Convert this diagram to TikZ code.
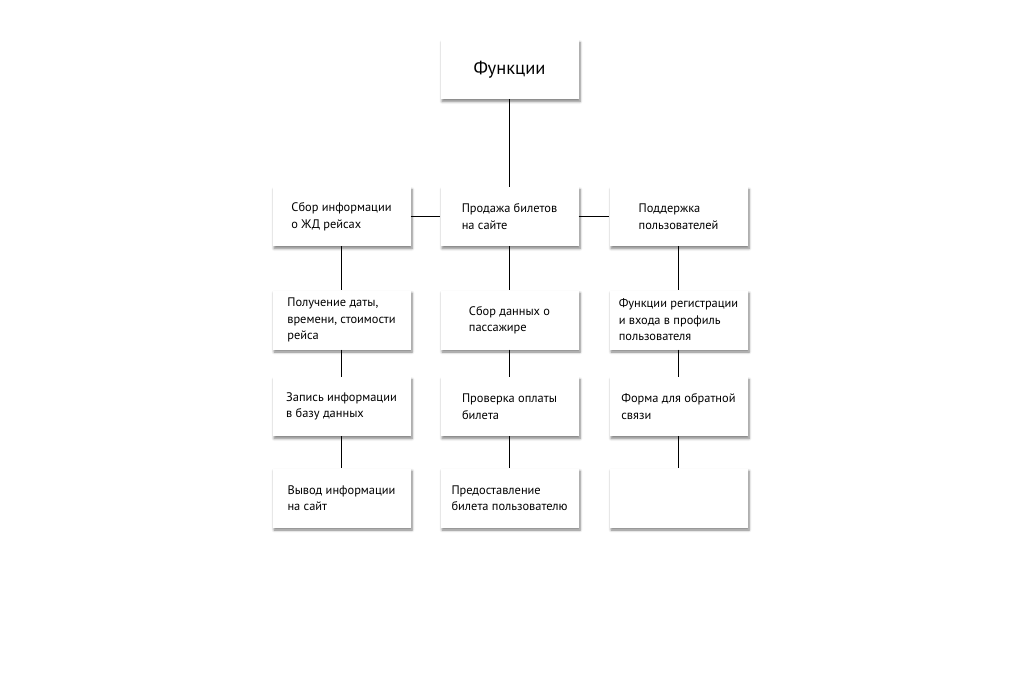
\documentclass[tikz,border=0pt]{standalone}
\usepackage{fontspec}
\setmainfont{PT Sans}
\usetikzlibrary{shadows.blur}
\begin{document}
\begin{tikzpicture}[x=1pt,y=1pt,
  box/.style={fill=white, minimum width=138pt, minimum height=59pt, inner sep=0pt,
    align=left, font=\fontsize{12.4}{16.5}\selectfont,
    blur shadow={shadow xshift=1.5pt, shadow yshift=-2.5pt, shadow blur steps=6, shadow opacity=50, shadow blur radius=2.5pt}},
  link/.style={draw=black, line width=1pt}]
\useasboundingbox (0,0) rectangle (1030,-678);
\node[box, font=\fontsize{18.5}{22}\selectfont] (top) at (509.5,-69.5) {Функции};
\node[box] (a1) at (341.5,-216.5) {Сбор информации\\о ЖД рейсах};
\node[box] (b1) at (509.5,-216.5) {Продажа билетов\\на сайте};
\node[box] (c1) at (678.5,-216.5) {Поддержка\\пользователей};
\node[box] (a2) at (341.5,-320) {Получение даты,\\времени, стоимости\\рейса};
\node[box] (b2) at (509.5,-320) {Сбор данных о\\пассажире};
\node[box] (c2) at (678.5,-320) {Функции регистрации\\и входа в профиль\\пользователя};
\node[box] (a3) at (341.5,-406.5) {Запись информации\\в базу данных};
\node[box] (b3) at (509.5,-406.5) {Проверка оплаты\\билета};
\node[box] (c3) at (678.5,-406.5) {Форма для обратной\\связи};
\node[box] (a4) at (341.5,-498) {Вывод информации\\на сайт};
\node[box] (b4) at (509.5,-498) {Предоставление\\билета пользователю};
\node[box] (c4) at (678.5,-498) {};
\draw[link] (top.south) -- (b1.north);
\draw[link] (a1.east) -- (b1.west);
\draw[link] (b1.east) -- (c1.west);
\foreach \c in {a,b,c}{
  \draw[link] (\c1.south) -- (\c2.north);
  \draw[link] (\c2.south) -- (\c3.north);
  \draw[link] (\c3.south) -- (\c4.north);
}
\end{tikzpicture}
\end{document}
